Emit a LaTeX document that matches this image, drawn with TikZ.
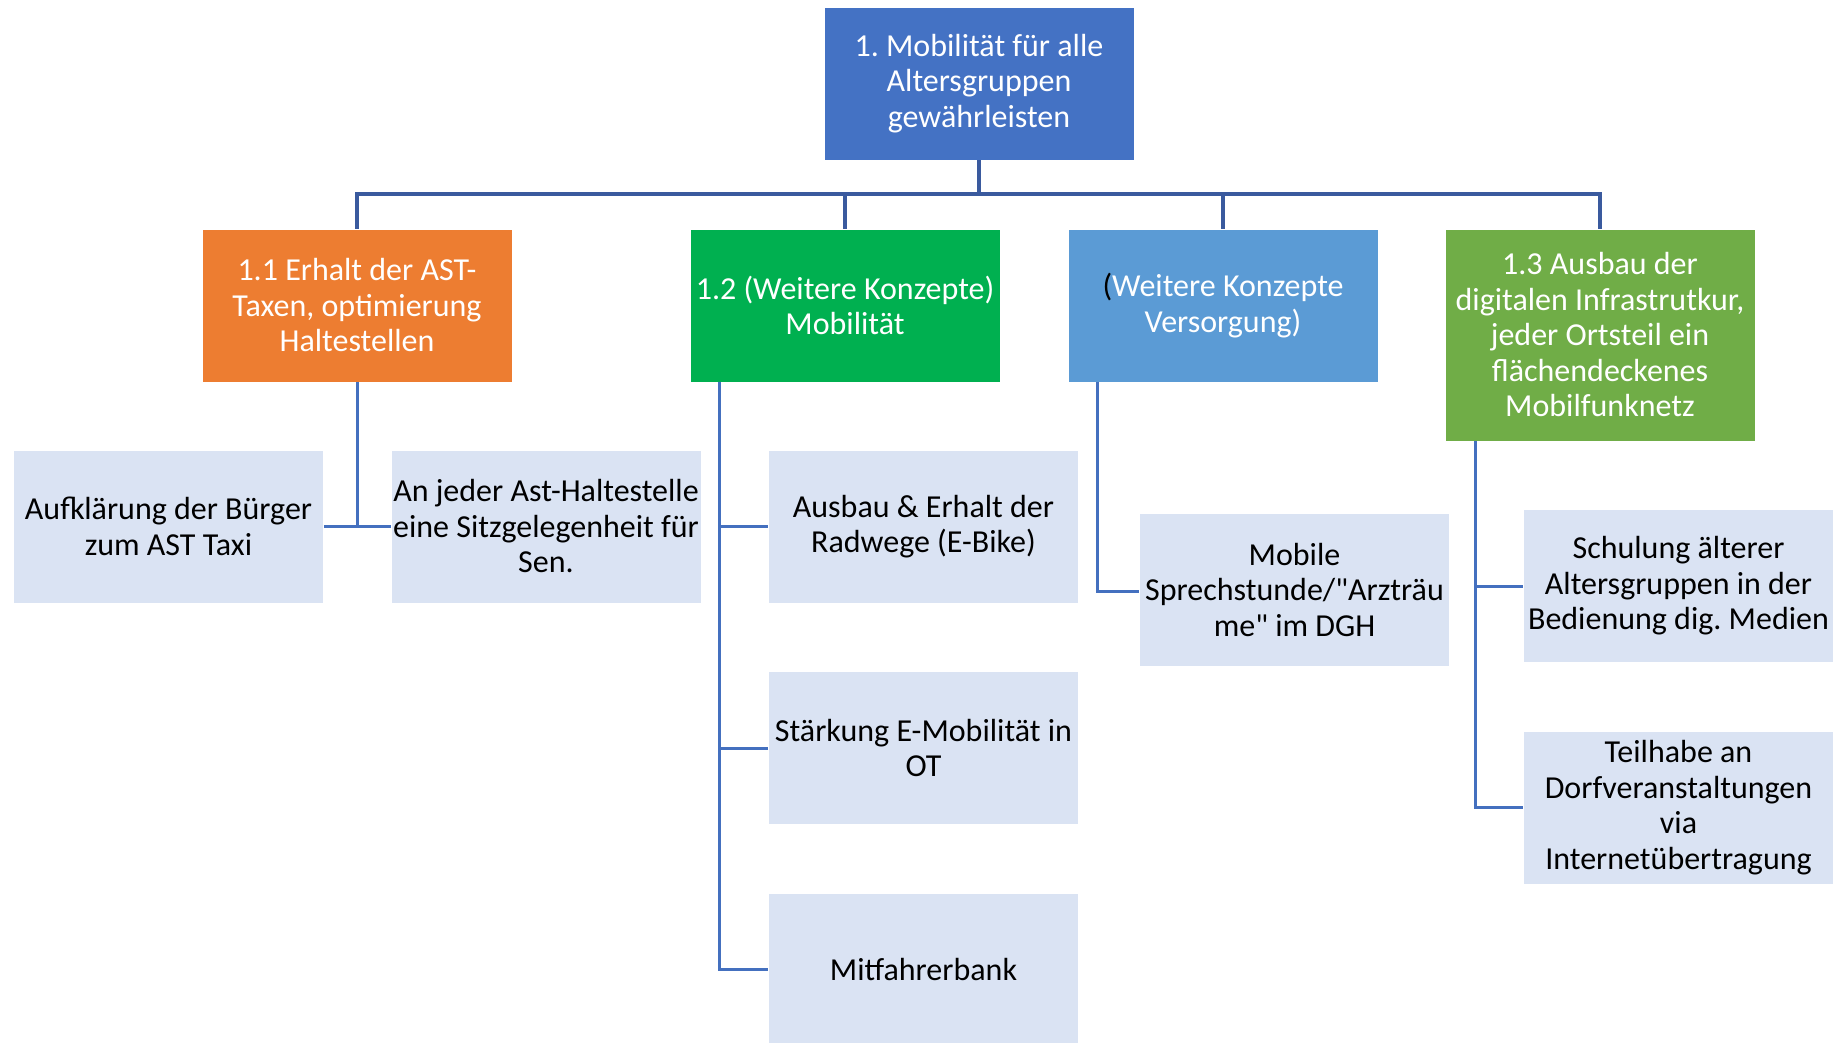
\documentclass[tikz,border=0pt]{standalone}
\usepackage{fontspec}
\setmainfont{Carlito}[Ligatures=TeXOff]
\frenchspacing
\definecolor{cTop}{HTML}{4472C4}
\definecolor{cOrange}{HTML}{ED7D31}
\definecolor{cGreen}{HTML}{00B050}
\definecolor{cBlue}{HTML}{5B9BD5}
\definecolor{cGreenB}{HTML}{70AD47}
\definecolor{cLight}{HTML}{DAE3F3}
\definecolor{cLineTop}{HTML}{3A5A9E}
\definecolor{cLine}{HTML}{4470BF}
\tikzset{
  box/.style={rectangle, draw=white, line width=0.8pt, minimum width=310pt, minimum height=153pt,
    inner sep=0pt, align=center, font=\fontsize{32}{35.5}\selectfont},
  headbox/.style={box, text=white},
  leafbox/.style={box, fill=cLight, text=black},
  busline/.style={draw=cLineTop, line width=3.2pt},
  conn/.style={draw=cLine, line width=3pt}
}
\begin{document}
\begin{tikzpicture}[x=1pt,y=-1pt]
\useasboundingbox (0,0) rectangle (1841,1043);
% top
\node[headbox, fill=cTop] (top) at (979,83.5) {1. Mobilität für alle\\Altersgruppen\\gewährleisten};
% level 2
\node[headbox, fill=cOrange] (n11) at (357,305.5) {1.1 Erhalt der AST-\\Taxen, optimierung\\Haltestellen};
\node[headbox, fill=cGreen] (n12) at (845,305.5) {1.2 (Weitere Konzepte)\\Mobilität};
\node[headbox, fill=cBlue] (n1v) at (1223,305.5) {\textcolor{black}{(}Weitere Konzepte\\Versorgung)};
\node[headbox, fill=cGreenB, minimum height=212pt] (n13) at (1600,335) {1.3 Ausbau der\\digitalen Infrastrutkur,\\jeder Ortsteil ein\\flächendeckenes\\Mobilfunknetz};
% level 3
\node[leafbox] (a1) at (168.5,526.5) {Aufklärung der Bürger\\zum AST Taxi};
\node[leafbox] (a2) at (546,526.5) {An jeder Ast-Haltestelle\\eine Sitzgelegenheit für\\Sen.};
\node[leafbox] (b1) at (923.5,526.5) {Ausbau \& Erhalt der\\Radwege (E-Bike)};
\node[leafbox] (b2) at (923.5,748) {Stärkung E-Mobilität in\\OT};
\node[leafbox, minimum height=153pt] (b3) at (923.5,969.5) {Mitfahrerbank};
\node[leafbox] (c1) at (1294.5,589.5) {Mobile\\Sprechstunde/"Arzträu\\me" im DGH};
\node[leafbox] (d1) at (1678.5,586) {Schulung älterer\\Altersgruppen in der\\Bedienung dig. Medien};
\node[leafbox] (d2) at (1678.5,807.5) {Teilhabe an\\Dorfveranstaltungen\\via\\Internetübertragung};
% bus
\coordinate (bus) at (979,194);
\draw[busline] (top.south) -- (bus);
\draw[busline] (n11.north) -- (n11.north |- bus) -- (n13.north |- bus) -- (n13.north);
\draw[busline] (n12.north) -- (n12.north |- bus);
\draw[busline] (n1v.north) -- (n1v.north |- bus);
% 1.1
\draw[conn] (n11.south) -- (n11.south |- a1.east);
\draw[conn] (a1.east) -- (a2.west);
% 1.2
\coordinate (s12) at ([xshift=30pt]n12.south west);
\draw[conn] (s12) |- (b1.west);
\draw[conn] (s12) |- (b2.west);
\draw[conn] (s12) |- (b3.west);
% Versorgung
\coordinate (s1v) at ([xshift=30pt]n1v.south west);
\draw[conn] (s1v) |- ([yshift=-1.5pt]c1.west);
% 1.3
\coordinate (s13) at ([xshift=31pt]n13.south west);
\draw[conn] (s13) |- (d1.west);
\draw[conn] (s13) |- (d2.west);
\end{tikzpicture}
\end{document}
